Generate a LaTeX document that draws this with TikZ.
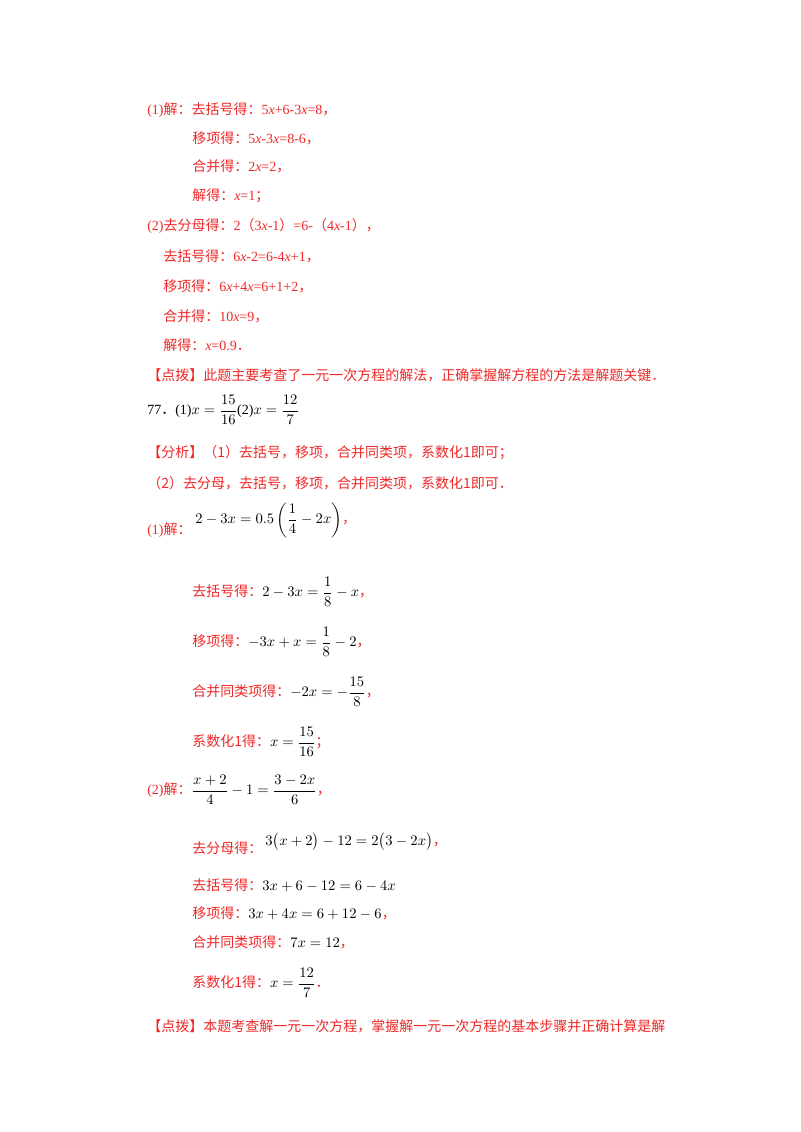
\documentclass[tikz,border=0pt]{standalone}
\usepackage{amsmath}
\usepackage{fontspec}
\setmainfont{Liberation Serif}
\newfontfamily\cjk{Noto Sans CJK SC}
\newcommand\zzc{{\cjk ，}}
\newcommand\zzd{{\cjk ．}}
\newcommand\zzs{{\cjk ；}}
\definecolor{rd}{RGB}{240,40,40}
\begin{document}
\begin{tikzpicture}[x=0.75pt,y=-0.75pt,
  t/.style={anchor=west,inner sep=0pt,text=rd,font=\fontsize{10.5pt}{12pt}\selectfont},
  b/.style={anchor=west,inner sep=0pt,text=black,font=\fontsize{10.5pt}{12pt}\selectfont}]
\fill[white] (0,0) rectangle (800,1132);
\node[t] (a1) at (147,110) {(1){\cjk 解：去括号得：}5\textit{x}+6-3\textit{x}=8\zzc};
\node[t] (a2) at (192,138) {{\cjk 移项得：}5\textit{x}-3\textit{x}=8-6\zzc};
\node[t] (a3) at (192,166) {{\cjk 合并得：}2\textit{x}=2\zzc};
\node[t] (a4) at (192,196) {{\cjk 解得：}\textit{x}=1\zzs};
\node[t] (a5) at (147,226) {(2){\cjk 去分母得：}2{\cjk（}3\textit{x}-1{\cjk）}=6-{\cjk（}4\textit{x}-1{\cjk）}\zzc};
\node[t] (a6) at (163,256) {{\cjk 去括号得：}6\textit{x}-2=6-4\textit{x}+1\zzc};
\node[t] (a7) at (163,286) {{\cjk 移项得：}6\textit{x}+4\textit{x}=6+1+2\zzc};
\node[t] (a8) at (163,316) {{\cjk 合并得：}10\textit{x}=9\zzc};
\node[t] (a9) at (163,345) {{\cjk 解得：}\textit{x}=0.9\zzd};
\node[t] (a10) at (147,375) {\cjk 【点拨】此题主要考查了一元一次方程的解法，正确掌握解方程的方法是解题关键．};
\node[b] (q) at (147,410) {77\zzd(1)$x=\dfrac{15}{16}$(2)$x=\dfrac{12}{7}$};
\node[t] (f1) at (147,453) {\cjk 【分析】（1）去括号，移项，合并同类项，系数化1即可；};
\node[t] (f2) at (147,483) {\cjk （2）去分母，去括号，移项，合并同类项，系数化1即可．};
\node[t] (s1) at (147,530) {(1){\cjk 解：}};
\node[b] (m1) at (195,520) {$2-3x=0.5\left(\dfrac14-2x\right)$\textcolor{rd}{\zzc}};
\node[t] (s2) at (192,592) {{\cjk 去括号得：}\textcolor{black}{$2-3x=\dfrac18-x$}\zzc};
\node[t] (s3) at (192,642) {{\cjk 移项得：}\textcolor{black}{$-3x+x=\dfrac18-2$}\zzc};
\node[t] (s4) at (192,692) {{\cjk 合并同类项得：}\textcolor{black}{$-2x=-\dfrac{15}{8}$}\zzc};
\node[t] (s5) at (192,742) {{\cjk 系数化1得：}\textcolor{black}{$x=\dfrac{15}{16}$}\zzs};
\node[t] (u1) at (147,790) {(2){\cjk 解：}\textcolor{black}{$\dfrac{x+2}{4}-1=\dfrac{3-2x}{6}$}\zzc};
\node[t] (u2) at (192,848) {\cjk 去分母得：};
\node[b] (m2) at (265,842) {$3\bigl(x+2\bigr)-12=2\bigl(3-2x\bigr)$\textcolor{rd}{\zzc}};
\node[t] (u3) at (192,885) {{\cjk 去括号得：}\textcolor{black}{$3x+6-12=6-4x$}};
\node[t] (u4) at (192,913) {{\cjk 移项得：}\textcolor{black}{$3x+4x=6+12-6$}\zzc};
\node[t] (u5) at (192,942) {{\cjk 合并同类项得：}\textcolor{black}{$7x=12$}\zzc};
\node[t] (u6) at (192,983) {{\cjk 系数化1得：}\textcolor{black}{$x=\dfrac{12}{7}$}\zzd};
\node[t] (d2) at (147,1026) {\cjk 【点拨】本题考查解一元一次方程，掌握解一元一次方程的基本步骤并正确计算是解};
\end{tikzpicture}
\end{document}
